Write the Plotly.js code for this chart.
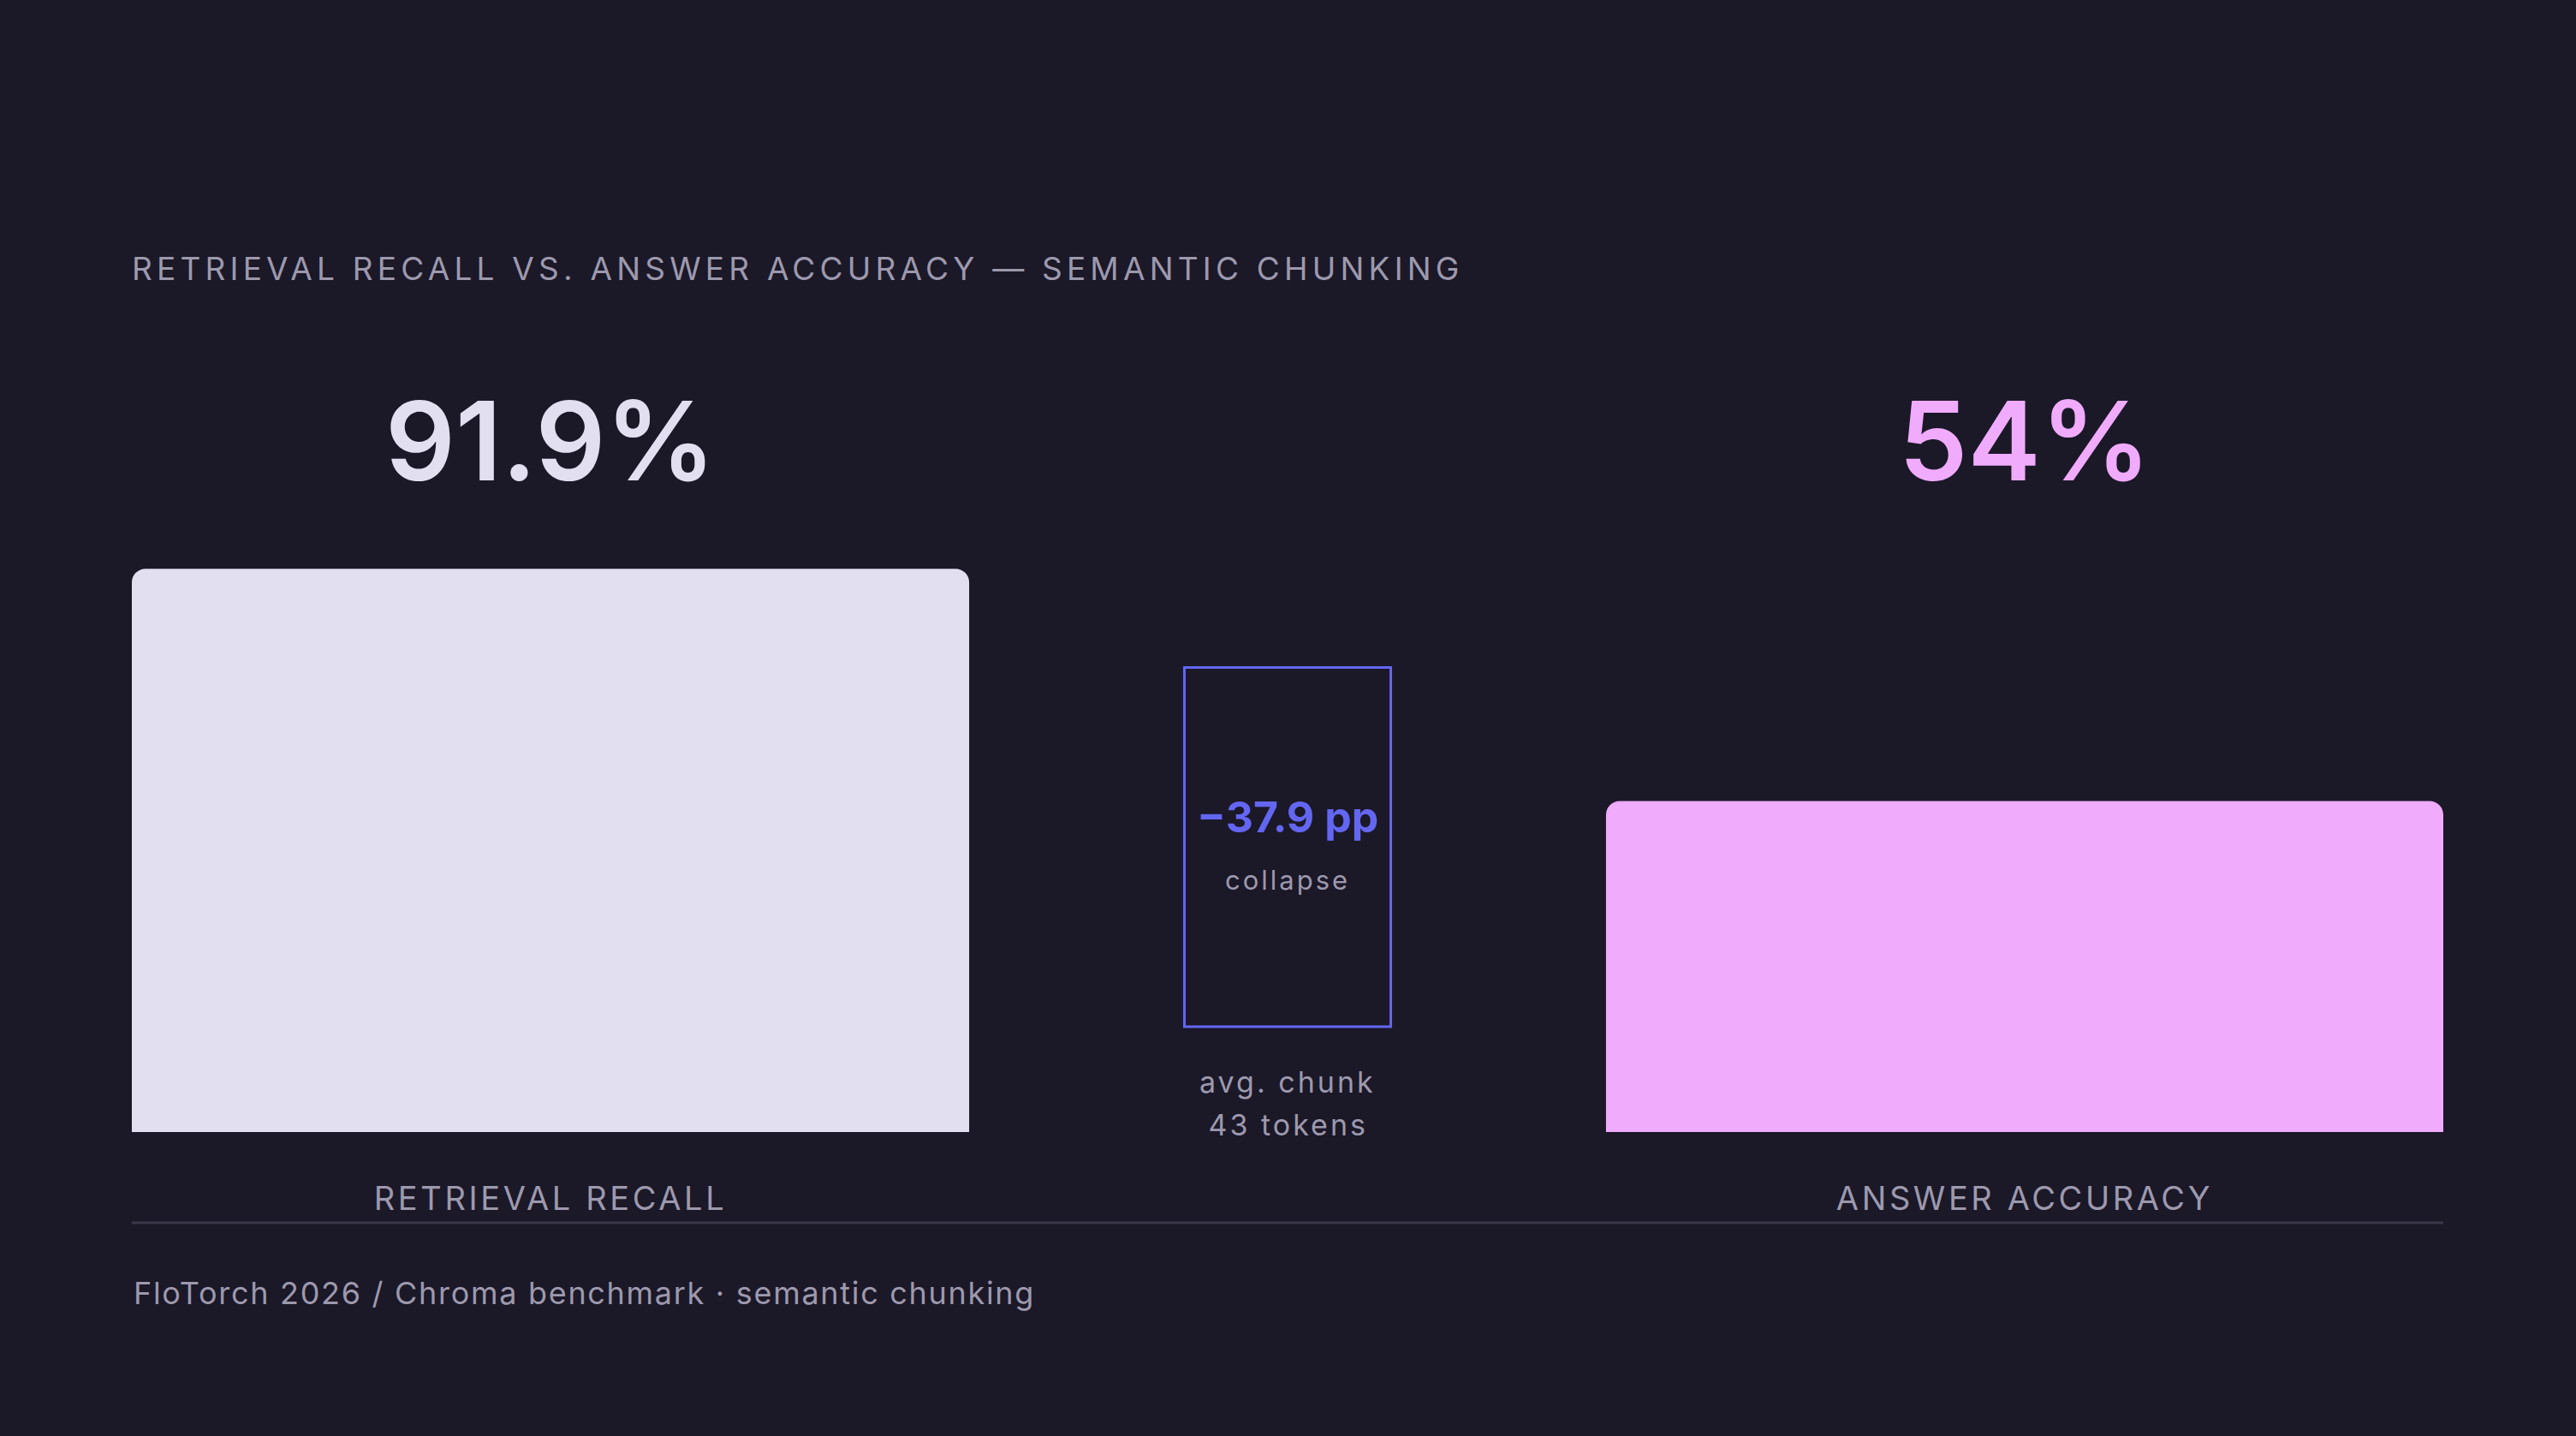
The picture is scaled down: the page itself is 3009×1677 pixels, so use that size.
<!DOCTYPE html>
<html>
<head>
<meta charset="utf-8">
<script src="https://cdn.plot.ly/plotly-3.0.1.min.js"></script>
<style>
  html, body { margin: 0; padding: 0; background: #1b1828; }
  .gtitle { letter-spacing: 5.2px; }
  .xtick text { letter-spacing: 3.6px; }
  .annotation[data-index="3"] text { letter-spacing: 3px; }
  .annotation[data-index="4"] text,
  .annotation[data-index="5"] text { letter-spacing: 3px; }
  .annotation[data-index="6"] text { letter-spacing: 1.7px; }
</style>
</head>
<body>
<div id="chart"></div>
<script>
// data
var categories = ['RETRIEVAL RECALL', 'ANSWER ACCURACY'];
var values = [91.9, 54];
var valueLabels = ['91.9%', '54%'];
var gapLabel = '\u221237.9 pp';
var gapNote = 'collapse';
var chunkLines = ['avg. chunk', '43 tokens'];

var bg = '#1b1828';
var muted = '#9d99ad';
var barColors = ['#e2dff0', '#f0abfc'];
var accent = '#6366f1';

var xPos = [0, 2];

var data = [{
  x: xPos,
  y: values,
  type: 'bar',
  width: 1.136,
  marker: { color: barColors, line: { width: 0 } },
  hoverinfo: 'skip'
}];

var annotations = [];
valueLabels.forEach(function (t, i) {
  annotations.push({
    x: xPos[i], y: 112.8, xref: 'x', yref: 'y',
    text: t, showarrow: false, xanchor: 'center', yanchor: 'middle',
    font: { family: 'Inter', size: 128, weight: 600, color: barColors[i] }
  });
});
annotations.push({
  x: 1, y: 51.4, xref: 'x', yref: 'y', text: gapLabel, showarrow: false,
  font: { family: 'Inter', size: 50, weight: 700, color: accent }
});
annotations.push({
  x: 1, y: 41.2, xref: 'x', yref: 'y', text: gapNote, showarrow: false,
  font: { family: 'Inter', size: 31, color: muted }
});
annotations.push({
  x: 1, y: 8.2, xref: 'x', yref: 'y', text: chunkLines[0], showarrow: false,
  font: { family: 'Inter', size: 34, color: muted }
});
annotations.push({
  x: 1, y: 1.2, xref: 'x', yref: 'y', text: chunkLines[1], showarrow: false,
  font: { family: 'Inter', size: 34, color: muted }
});
annotations.push({
  x: 0, y: -0.219, xref: 'paper', yref: 'paper', xanchor: 'left', yanchor: 'middle',
  align: 'left',
  text: 'FloTorch 2026 / Chroma benchmark \u00b7 semantic chunking', showarrow: false,
  font: { family: 'Inter', size: 36, color: muted }
});

var layout = {
  width: 3009,
  height: 1677,
  paper_bgcolor: bg,
  plot_bgcolor: bg,
  showlegend: false,
  margin: { l: 154, r: 155, t: 463, b: 355 },
  barcornerradius: 16,
  title: {
    text: 'RETRIEVAL RECALL VS. ANSWER ACCURACY \u2014 SEMANTIC CHUNKING',
    x: 0, xref: 'paper', xanchor: 'left',
    y: 0.8125, yref: 'container', yanchor: 'middle',
    font: { family: 'Inter', size: 37, color: muted }
  },
  xaxis: {
    range: [-0.568, 2.568],
    tickvals: xPos,
    ticktext: categories,
    ticks: 'outside',
    ticklen: 44,
    tickcolor: 'rgba(0,0,0,0)',
    tickfont: { family: 'Inter', size: 38, color: muted },
    showgrid: false,
    zeroline: false,
    showline: false,
    fixedrange: true
  },
  yaxis: {
    range: [0, 120],
    visible: false,
    showgrid: false,
    zeroline: false,
    fixedrange: true
  },
  shapes: [
    {
      type: 'rect', xref: 'x', yref: 'y',
      x0: 0.86, x1: 1.14, y0: 17.2, y1: 75.8,
      line: { color: accent, width: 3 },
      fillcolor: 'rgba(0,0,0,0)'
    },
    {
      type: 'line', xref: 'paper', yref: 'paper',
      x0: 0, x1: 1, y0: -0.1234, y1: -0.1234,
      line: { color: '#3b3849', width: 3 }
    }
  ],
  annotations: annotations
};

var config = { displayModeBar: false, staticPlot: true };

Plotly.newPlot('chart', data, layout, config);
</script>
</body>
</html>
